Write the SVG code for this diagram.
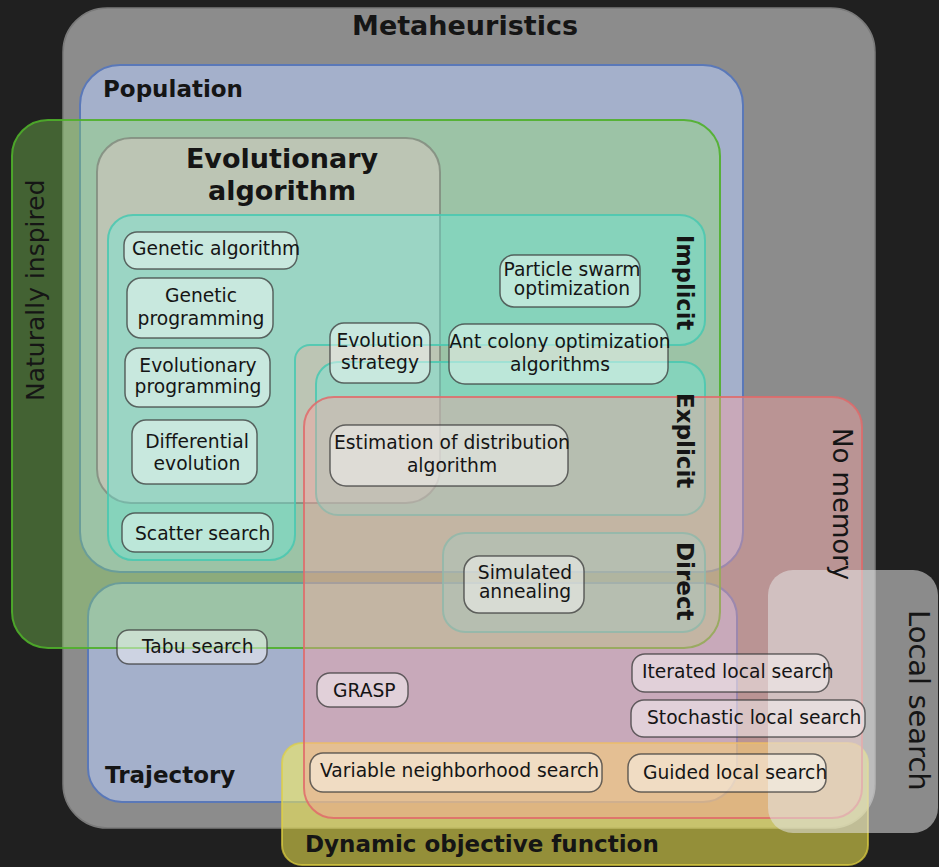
<svg xmlns="http://www.w3.org/2000/svg" width="939" height="867" viewBox="0 0 939 867">
<defs>
<style>
.t{font-family:"DejaVu Sans","Noto Sans",sans-serif;font-size:18.7px;fill:#151515}
.tm{text-anchor:middle}
.b{font-weight:bold}
.box{fill:#ffffff;fill-opacity:.45;stroke:#3a3a3a;stroke-opacity:.75;stroke-width:1.5}
.blue{fill:#a4b0cb;stroke:#5a78b8;stroke-width:2}
.green{fill:#8ceb5a;fill-opacity:.33;stroke:#4fb02a;stroke-opacity:.9;stroke-width:2}
.ea{fill:#dcc8c2;fill-opacity:.5;stroke:#80887c;stroke-opacity:.8;stroke-width:2}
.teal{fill:#60f0e0;fill-opacity:.36;stroke:#48c8b0;stroke-opacity:.85;stroke-width:2}
.red{fill:#ffa0a0;fill-opacity:.4;stroke:#e06a6a;stroke-opacity:.85;stroke-width:2}
.yel{fill:#fff550;fill-opacity:.52;stroke:#e0d040;stroke-opacity:.7;stroke-width:2}
.ls{fill:#e4e4e4;fill-opacity:.55}
</style>
</defs>
<rect x="0" y="0" width="939" height="867" fill="#202020"/>
<g id="metaheuristics"><rect x="63" y="8" width="812" height="820" rx="44" fill="#8c8c8c" stroke="#7a7a7a" stroke-width="1.5"/></g>
<g id="population"><rect class="blue" x="80" y="65" width="663" height="507" rx="40"/></g>
<g id="trajectory"><rect class="blue" x="88" y="583" width="649" height="219" rx="34"/></g>
<g id="naturally-inspired"><rect class="green" x="12" y="120" width="708" height="528" rx="36"/></g>
<g id="evolutionary-algorithm"><rect class="ea" x="97" y="138" width="343" height="365" rx="34"/></g>
<g id="implicit"><path class="teal" d="M133,215 H680 A25,25 0 0 1 705,240 V320 A25,25 0 0 1 680,345 H310 A15,15 0 0 0 295,360 V535 A25,25 0 0 1 270,560 H133 A25,25 0 0 1 108,535 V240 A25,25 0 0 1 133,215 Z"/></g>
<g id="explicit"><rect class="teal" x="316" y="362" width="389" height="153" rx="22"/></g>
<g id="direct"><rect class="teal" x="443" y="533" width="262" height="99" rx="22"/></g>
<g id="dynamic-objective-function"><rect class="yel" x="282" y="743" width="586" height="122" rx="20"/></g>
<g id="no-memory"><rect class="red" x="304" y="397" width="558" height="421" rx="30"/></g>
<g id="local-search"><rect class="ls" x="768" y="570" width="170" height="263" rx="25"/></g>
<g id="connectors"></g>
<g id="n-ga"><rect class="box" x="124" y="232" width="173" height="37" rx="13"/><text class="t" x="132" y="255">Genetic algorithm</text></g>
<g id="n-gp"><rect class="box" x="127" y="278" width="146" height="60" rx="14"/><text class="t tm" x="201" y="302">Genetic</text><text class="t tm" x="201" y="325">programming</text></g>
<g id="n-ep"><rect class="box" x="125" y="348" width="145" height="59" rx="14"/><text class="t tm" x="198" y="372">Evolutionary</text><text class="t tm" x="198" y="393">programming</text></g>
<g id="n-de"><rect class="box" x="132" y="420" width="125" height="64" rx="14"/><text class="t tm" x="197" y="448">Differential</text><text class="t tm" x="197" y="470">evolution</text></g>
<g id="n-ss"><rect class="box" x="122" y="513" width="151" height="39" rx="13"/><text class="t" x="135" y="540">Scatter search</text></g>
<g id="n-es"><rect class="box" x="330" y="323" width="100" height="60" rx="14"/><text class="t tm" x="380" y="347">Evolution</text><text class="t tm" x="380" y="369">strategy</text></g>
<g id="n-pso"><rect class="box" x="500" y="255" width="140" height="52" rx="14"/><text class="t tm" x="572" y="276">Particle swarm</text><text class="t tm" x="572" y="295">optimization</text></g>
<g id="n-aco"><rect class="box" x="449" y="324" width="219" height="60" rx="16"/><text class="t tm" x="560" y="348">Ant colony optimization</text><text class="t tm" x="560" y="371">algorithms</text></g>
<g id="n-eda"><rect class="box" x="330" y="425" width="238" height="61" rx="16"/><text class="t tm" x="452" y="449">Estimation of distribution</text><text class="t tm" x="452" y="472">algorithm</text></g>
<g id="n-sa"><rect class="box" x="464" y="556" width="120" height="57" rx="15"/><text class="t tm" x="525" y="579">Simulated</text><text class="t tm" x="525" y="598">annealing</text></g>
<g id="n-tabu"><rect class="box" x="117" y="630" width="150" height="34" rx="12"/><text class="t" x="142" y="653">Tabu search</text></g>
<g id="n-grasp"><rect class="box" x="317" y="673" width="91" height="34" rx="13"/><text class="t" x="333" y="697">GRASP</text></g>
<g id="n-ils"><rect class="box" x="632" y="654" width="197" height="38" rx="13"/><text class="t" x="642" y="678">Iterated local search</text></g>
<g id="n-sls"><rect class="box" x="631" y="700" width="234" height="37" rx="13"/><text class="t" x="647" y="724">Stochastic local search</text></g>
<g id="n-vns"><rect class="box" x="310" y="753" width="292" height="39" rx="13"/><text class="t" x="320" y="777">Variable neighborhood search</text></g>
<g id="n-gls"><rect class="box" x="628" y="754" width="198" height="38" rx="13"/><text class="t" x="643" y="779">Guided local search</text></g>
<g id="labels">
<text class="t b tm" x="465" y="35" style="font-size:27px">Metaheuristics</text>
<text class="t b" x="103" y="97" style="font-size:23px">Population</text>
<text class="t b tm" x="282" y="168" style="font-size:27px">Evolutionary</text>
<text class="t b tm" x="282" y="200" style="font-size:27px">algorithm</text>
<text class="t b" x="105" y="783" style="font-size:23px">Trajectory</text>
<text class="t b" x="305" y="852" style="font-size:23px">Dynamic objective function</text>
<text class="t" transform="translate(44,401) rotate(-90)" style="font-size:25px">Naturally inspired</text>
<text class="t" transform="translate(833,428) rotate(90)" style="font-size:26px">No memory</text>
<text class="t" transform="translate(909,610) rotate(90)" style="font-size:29px">Local search</text>
<text class="t b" transform="translate(677,235) rotate(90)" style="font-size:22.5px">Implicit</text>
<text class="t b" transform="translate(677,393) rotate(90)" style="font-size:23px">Explicit</text>
<text class="t b" transform="translate(677,542) rotate(90)" style="font-size:23px">Direct</text>
</g>
</svg>
